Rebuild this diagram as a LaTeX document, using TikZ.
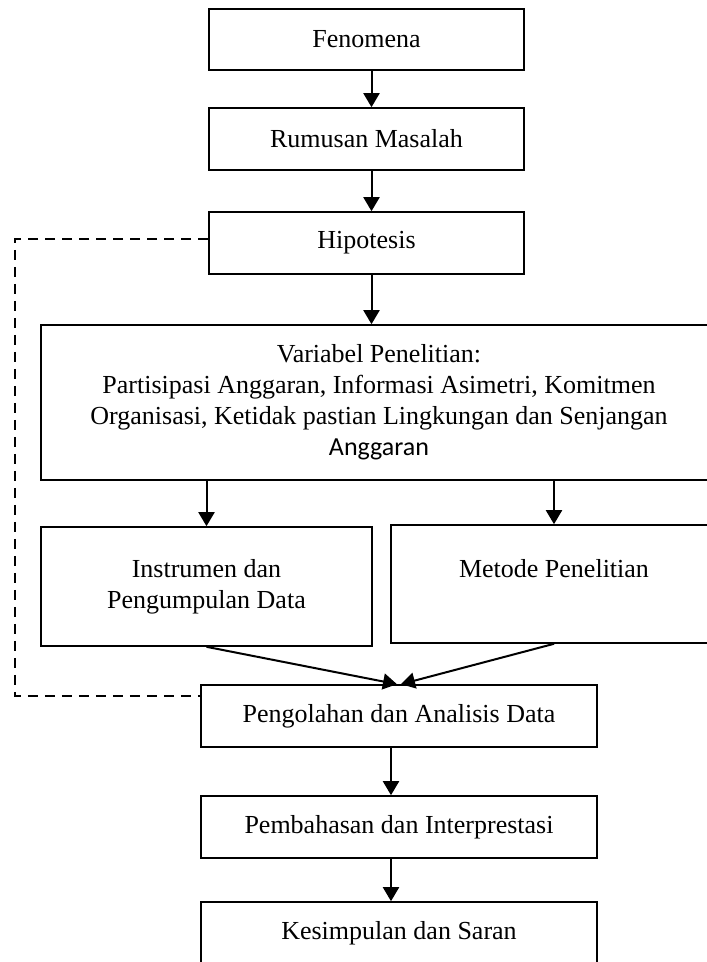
\documentclass[tikz,border=0pt]{standalone}
\usepackage{fontspec}
\setmainfont{Liberation Serif}
\newfontfamily\calibrilike{Carlito}
\usetikzlibrary{arrows.meta}

\begin{document}
\begin{tikzpicture}[x=1pt,y=-1pt,
  kotak/.style={draw,line width=1.6pt,inner sep=0pt,align=center,
    font=\fontsize{26}{31}\selectfont},
  >={Triangle[length=14pt,width=16pt]}]
\useasboundingbox (0,0) rectangle (707,962);
\path (366.5,39.5) node[kotak,minimum width=315pt,minimum height=61pt](fen){Fenomena}
      (366.5,139) node[kotak,minimum width=315pt,minimum height=62pt](rum){Rumusan Masalah}
      (366.5,243) node[kotak,minimum width=315pt,minimum height=62pt](hip){Hipotesis}
      (379,402.5) node[kotak,minimum width=676pt,minimum height=155pt](var){Variabel Penelitian:\\
        Partisipasi Anggaran, Informasi Asimetri, Komitmen\\
        Organisasi, Ketidak pastian Lingkungan dan Senjangan\\
        {\calibrilike Anggaran}}
      (206.5,586.5) node[kotak,minimum width=331pt,minimum height=119pt](ins){Instrumen dan\\Pengumpulan Data}
      (554,584) node[kotak,minimum width=326pt,minimum height=118pt](met){Metode Penelitian\\\mbox{}}
      (399,716) node[kotak,minimum width=396pt,minimum height=62pt](pen){Pengolahan dan Analisis Data}
      (399,827) node[kotak,minimum width=396pt,minimum height=62pt](pem){Pembahasan dan Interprestasi}
      (399,933) node[kotak,minimum width=396pt,minimum height=62pt](kes){Kesimpulan dan Saran};
\coordinate (kiri) at (15,0);
\draw[->,line width=2pt] ([xshift=5pt]fen.south) -- ([xshift=5pt]rum.north);
\draw[->,line width=2pt] ([xshift=5pt]rum.south) -- ([xshift=5pt]hip.north);
\draw[->,line width=2pt] ([xshift=5pt]hip.south) -- ([xshift=5pt]hip.south |- var.north);
\draw[->,line width=2pt] (var.south -| ins) -- (ins.north);
\draw[->,line width=2pt] (var.south -| met) -- (met.north);
\draw[->,line width=2pt] (ins.south) -- ([xshift=-2pt]pen.north);
\draw[->,line width=2pt] (met.south) -- ([xshift=2pt]pen.north);
\draw[->,line width=2pt] ([xshift=-8pt]pen.south) -- ([xshift=-8pt]pem.north);
\draw[->,line width=2pt] ([xshift=-8pt]pem.south) -- ([xshift=-8pt]kes.north);
% garis umpan balik
\draw[line width=1.8pt,dash pattern=on 10pt off 7pt]
  ([yshift=4pt]hip.west) -- ([yshift=4pt]hip.west -| kiri)
  -- ([yshift=20pt]pen.west -| kiri) -- ([yshift=20pt]pen.west);
\end{tikzpicture}
\end{document}
